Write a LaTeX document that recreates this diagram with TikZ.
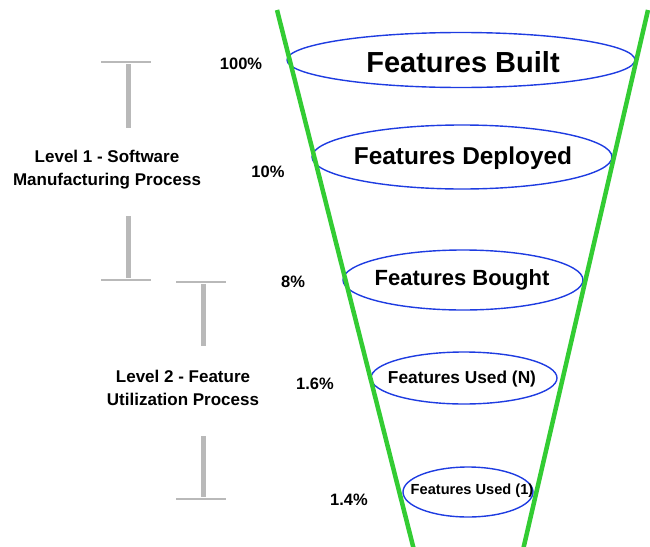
\documentclass[tikz,border=0pt]{standalone}
\usepackage{fontspec}
\setmainfont{Liberation Sans}
\usetikzlibrary{shapes.geometric}
\definecolor{funnelgreen}{RGB}{51,204,51}
\definecolor{ringblue}{RGB}{30,60,225}
\definecolor{bargray}{RGB}{185,185,185}
\tikzset{
  ring/.style={ellipse, draw=ringblue, line width=1.4pt, inner sep=0pt},
  ringtext/.style={inner sep=0pt},
  pct/.style={font=\bfseries\fontsize{16.5}{18}\selectfont, inner sep=0pt},
  lvl/.style={font=\bfseries\fontsize{17}{23}\selectfont, align=center, inner sep=0pt},
  barstem/.style={draw=bargray, line width=5pt},
  barcap/.style={draw=bargray, line width=2pt},
  funnelside/.style={draw=funnelgreen, line width=4.5pt}
}
\begin{document}
\begin{tikzpicture}[x=1pt,y=-1pt]
\useasboundingbox (0,0) rectangle (650,546);
% rings
\node[ring, minimum width=348pt, minimum height=55pt] (built) at (461,60) {};
\node[ringtext, font=\bfseries\fontsize{29}{32}\selectfont] (tbuilt) at (463,62) {Features Built};
\node[ring, minimum width=300pt, minimum height=64pt] (deployed) at (462,157) {};
\node[ringtext, font=\bfseries\fontsize{24.4}{28}\selectfont] (tdeployed) at (463,158) {Features Deployed};
\node[ring, minimum width=240pt, minimum height=60pt] (bought) at (463,280) {};
\node[ringtext, font=\bfseries\fontsize{22}{25}\selectfont] (tbought) at (462,280) {Features Bought};
\node[ring, minimum width=186pt, minimum height=52pt] (usedN) at (464,378) {};
\node[ringtext, font=\bfseries\fontsize{17.3}{20}\selectfont] (tusedN) at (462,379) {Features Used (N)};
\node[ring, minimum width=130pt, minimum height=50pt] (used1) at (468,492) {};
\node[ringtext, font=\bfseries\fontsize{14.6}{17}\selectfont] (tused1) at (472,491) {Features Used (1)};
% funnel sides
\coordinate (lt) at (277,10);
\coordinate (lb) at (414,550);
\coordinate (rt) at (648,10);
\coordinate (rb) at (523,550);
\draw[funnelside] (lt) -- (lb);
\draw[funnelside] (rt) -- (rb);
% percentages
\node[pct] (p100) at (241,64) {100\%};
\node[pct] (p10) at (268,172) {10\%};
\node[pct] (p8) at (293,282) {8\%};
\node[pct] (p16) at (315,384) {1.6\%};
\node[pct] (p14) at (349,500) {1.4\%};
% level labels
\node[lvl] (lev1) at (107,170) {Level 1 - Software\\Manufacturing Process};
\node[lvl] (lev2) at (183,388) {Level 2 - Feature\\Utilization Process};
% bars
\draw[barstem] (128,64) -- (128,128);
\draw[barcap] (101,62) -- (151,62);
\draw[barstem] (128,216) -- (128,278);
\draw[barcap] (101,280) -- (151,280);
\draw[barstem] (203,284) -- (203,346);
\draw[barcap] (176,282) -- (226,282);
\draw[barstem] (203,436) -- (203,497);
\draw[barcap] (176,499) -- (226,499);
\end{tikzpicture}
\end{document}
